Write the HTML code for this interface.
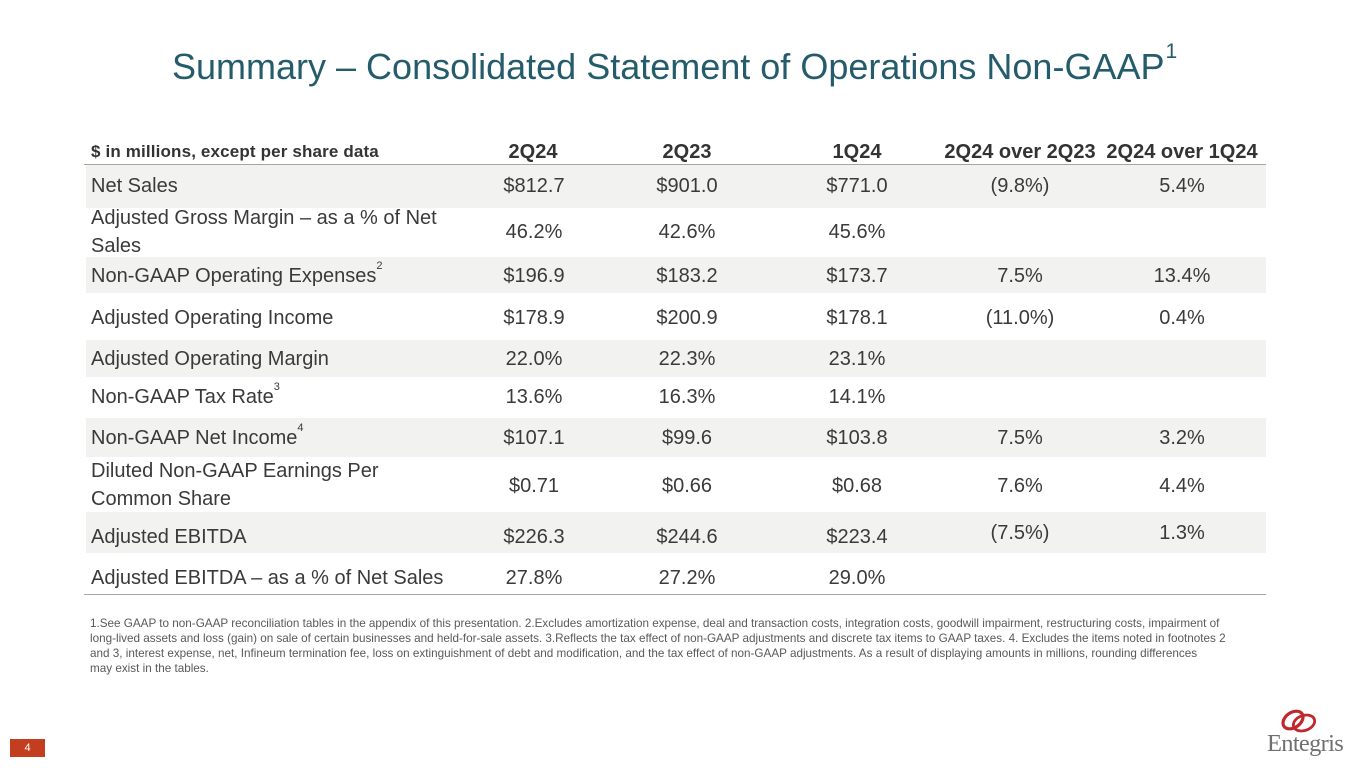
<!DOCTYPE html>
<html>
<head>
<meta charset="utf-8">
<style>
  html, body { margin:0; padding:0; }
  body { width:1365px; height:768px; position:relative; overflow:hidden; background:#ffffff;
         font-family:"Liberation Sans", Arial, sans-serif; color:#3a3a3a; }
  .abs { position:absolute; white-space:nowrap; }
  .title { left:172px; top:45px; font-size:36px; line-height:44px; color:#245c6c; letter-spacing:0px; }
  .title sup { font-size:21px; position:relative; top:-4px; vertical-align:top; line-height:21px; margin-left:1px; }
  .band { position:absolute; left:86px; width:1180px; background:#f2f2f1; }
  .line { position:absolute; left:84px; width:1182px; height:1px; background:#a6a6a6; }
  .hdr { font-weight:bold; font-size:20px; line-height:22px; color:#333; width:200px; text-align:center; top:141px; }
  .hdr0 { font-weight:bold; font-size:17px; line-height:22px; color:#333; left:91px; top:141px; letter-spacing:0.15px; }
  .lbl { font-size:20px; line-height:24px; left:91px; color:#3a3a3a; }
  .lbl2 { font-size:20px; line-height:28px; left:91px; color:#3a3a3a; }
  .val { font-size:20px; line-height:24px; width:200px; text-align:center; color:#3a3a3a; }
  .c1 { left:434px; } .c2 { left:587px; } .c3 { left:757px; } .c4 { left:920px; } .c5 { left:1082px; }
  sup.s { font-size:11px; vertical-align:top; position:relative; top:-3px; line-height:11px; }
  .foot { left:90px; top:616px; font-size:11.7px; line-height:15px; color:#595959; }
  .pg { left:10px; top:739px; width:35px; height:18px; background:#c33d1f; color:#fff; font-size:11px; line-height:18px; text-align:center; }
  .logo { left:1267px; top:730px; font-family:"Liberation Serif", serif; font-size:24.5px; line-height:27px; color:#6f6f6f; letter-spacing:-0.7px; }
</style>
</head>
<body>

<div class="abs title">Summary – Consolidated Statement of Operations Non-GAAP<sup>1</sup></div>

<!-- header -->
<div class="abs hdr0">$ in millions, except per share data</div>
<div class="abs hdr" style="left:433px;">2Q24</div>
<div class="abs hdr" style="left:587px;">2Q23</div>
<div class="abs hdr" style="left:757px;">1Q24</div>
<div class="abs hdr" style="left:920px;">2Q24 over 2Q23</div>
<div class="abs hdr" style="left:1082px;">2Q24 over 1Q24</div>
<div class="line" style="top:164px;"></div>

<!-- bands -->
<div class="band" style="top:165px;height:43px;"></div>
<div class="band" style="top:257px;height:36px;"></div>
<div class="band" style="top:340px;height:37px;"></div>
<div class="band" style="top:418px;height:39px;"></div>
<div class="band" style="top:512px;height:41px;"></div>
<div class="line" style="top:594px;"></div>

<!-- Net Sales -->
<div class="abs lbl" style="top:174px;">Net Sales</div>
<div class="abs val c1" style="top:174px;">$812.7</div>
<div class="abs val c2" style="top:174px;">$901.0</div>
<div class="abs val c3" style="top:174px;">$771.0</div>
<div class="abs val c4" style="top:174px;">(9.8%)</div>
<div class="abs val c5" style="top:174px;">5.4%</div>

<!-- Adjusted Gross Margin -->
<div class="abs lbl2" style="top:204px;">Adjusted Gross Margin – as a % of Net<br>Sales</div>
<div class="abs val c1" style="top:220px;">46.2%</div>
<div class="abs val c2" style="top:220px;">42.6%</div>
<div class="abs val c3" style="top:220px;">45.6%</div>

<!-- Non-GAAP OpEx -->
<div class="abs lbl" style="top:264px;">Non-GAAP Operating Expenses<sup class="s">2</sup></div>
<div class="abs val c1" style="top:264px;">$196.9</div>
<div class="abs val c2" style="top:264px;">$183.2</div>
<div class="abs val c3" style="top:264px;">$173.7</div>
<div class="abs val c4" style="top:264px;">7.5%</div>
<div class="abs val c5" style="top:264px;">13.4%</div>

<!-- Adjusted Operating Income -->
<div class="abs lbl" style="top:306px;">Adjusted Operating Income</div>
<div class="abs val c1" style="top:306px;">$178.9</div>
<div class="abs val c2" style="top:306px;">$200.9</div>
<div class="abs val c3" style="top:306px;">$178.1</div>
<div class="abs val c4" style="top:306px;">(11.0%)</div>
<div class="abs val c5" style="top:306px;">0.4%</div>

<!-- Adjusted Operating Margin -->
<div class="abs lbl" style="top:347px;">Adjusted Operating Margin</div>
<div class="abs val c1" style="top:347px;">22.0%</div>
<div class="abs val c2" style="top:347px;">22.3%</div>
<div class="abs val c3" style="top:347px;">23.1%</div>

<!-- Tax Rate -->
<div class="abs lbl" style="top:385px;">Non-GAAP Tax Rate<sup class="s">3</sup></div>
<div class="abs val c1" style="top:385px;">13.6%</div>
<div class="abs val c2" style="top:385px;">16.3%</div>
<div class="abs val c3" style="top:385px;">14.1%</div>

<!-- Net Income -->
<div class="abs lbl" style="top:426px;">Non-GAAP Net Income<sup class="s">4</sup></div>
<div class="abs val c1" style="top:426px;">$107.1</div>
<div class="abs val c2" style="top:426px;">$99.6</div>
<div class="abs val c3" style="top:426px;">$103.8</div>
<div class="abs val c4" style="top:426px;">7.5%</div>
<div class="abs val c5" style="top:426px;">3.2%</div>

<!-- Diluted EPS -->
<div class="abs lbl2" style="top:457px;">Diluted Non-GAAP Earnings Per<br>Common Share</div>
<div class="abs val c1" style="top:474px;">$0.71</div>
<div class="abs val c2" style="top:474px;">$0.66</div>
<div class="abs val c3" style="top:474px;">$0.68</div>
<div class="abs val c4" style="top:474px;">7.6%</div>
<div class="abs val c5" style="top:474px;">4.4%</div>

<!-- Adjusted EBITDA -->
<div class="abs lbl" style="top:525px;">Adjusted EBITDA</div>
<div class="abs val c1" style="top:525px;">$226.3</div>
<div class="abs val c2" style="top:525px;">$244.6</div>
<div class="abs val c3" style="top:525px;">$223.4</div>
<div class="abs val c4" style="top:521px;">(7.5%)</div>
<div class="abs val c5" style="top:521px;">1.3%</div>

<!-- EBITDA % -->
<div class="abs lbl" style="top:566px;">Adjusted EBITDA – as a % of Net Sales</div>
<div class="abs val c1" style="top:566px;">27.8%</div>
<div class="abs val c2" style="top:566px;">27.2%</div>
<div class="abs val c3" style="top:566px;">29.0%</div>

<!-- footnote -->
<div class="abs foot">1.See GAAP to non-GAAP reconciliation tables in the appendix of this presentation. 2.Excludes amortization expense, deal and transaction costs, integration costs, goodwill impairment, restructuring costs, impairment of<br>long-lived assets and loss (gain) on sale of certain businesses and held-for-sale assets. 3.Reflects the tax effect of non-GAAP adjustments and discrete tax items to GAAP taxes. 4. Excludes the items noted in footnotes 2<br>and 3, interest expense, net, Infineum termination fee, loss on extinguishment of debt and modification, and the tax effect of non-GAAP adjustments. As a result of displaying amounts in millions, rounding differences<br>may exist in the tables.</div>

<!-- page number -->
<div class="abs pg">4</div>

<!-- logo -->
<svg class="abs" style="left:1278px;top:705px;" width="44" height="32" viewBox="0 0 44 32">
  <ellipse cx="15" cy="15" rx="11" ry="7.5" transform="rotate(-35 15 15)" fill="none" stroke="#c1272d" stroke-width="3.2"/>
  <ellipse cx="26" cy="18" rx="11" ry="7.5" transform="rotate(-20 26 18)" fill="none" stroke="#c1272d" stroke-width="2.8"/>
</svg>
<div class="abs logo">Entegris</div>

</body>
</html>
